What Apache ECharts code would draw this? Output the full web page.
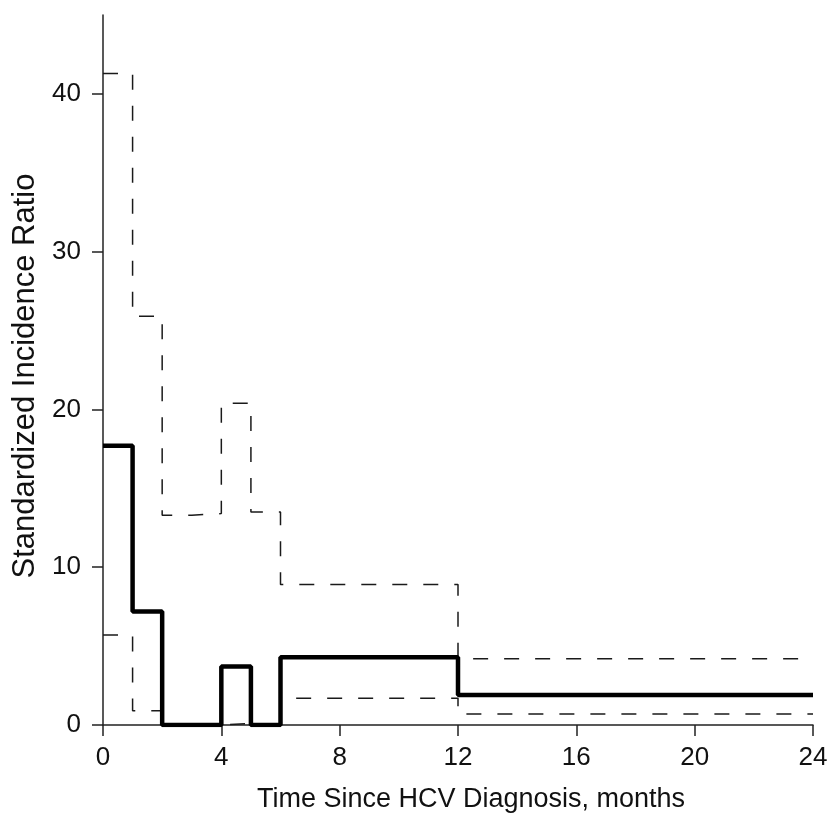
<!DOCTYPE html>
<html>
<head>
<meta charset="utf-8">
<script src="https://cdn.jsdelivr.net/npm/echarts@6/dist/echarts.min.js"></script>
<style>
  html, body { margin: 0; padding: 0; background: #fff; }
  #chart { width: 831px; height: 814px; }
</style>
</head>
<body>
<div id="chart"></div>
<script>
// step breakpoints (months) and values; last point repeats value to close the step
const sirPoints = [[0, 17.7], [1, 7.2], [2, 0], [4, 3.7], [5, 0], [6, 4.3], [12, 1.9], [24, 1.9]]
const upperCI = [[0, 41.3], [1, 25.9], [2, 13.3], [3, 13.4], [4, 20.4], [5, 13.5], [6, 8.9], [12, 4.2], [24, 4.2]]
const lowerCI = [[0, 5.7], [1, 0.9], [2, 0], [4, 0.1], [5, 0], [6, 1.7], [12, 0.7], [24, 0.7]]
const yTicks = [0, 10, 20, 30, 40]

const chart = echarts.init(document.getElementById('chart'))
const font = 'Liberation Sans, Arial, sans-serif'
const axisColor = '#222'

const dashed = {
  color: '#1a1a1a',
  width: 1.5,
  type: [15, 16],
}

chart.setOption({
  backgroundColor: '#fff',
  animation: false,
  grid: { left: 103, right: 18, top: 15, bottom: 89, outerBoundsMode: 'none', containLabel: false },
  xAxis: {
    type: 'value',
    min: 0,
    max: 24,
    interval: 4,
    name: 'Time Since HCV Diagnosis, months',
    nameLocation: 'middle',
    nameGap: 61,
    nameMoveOverlap: false,
    nameTextStyle: { color: '#111', fontSize: 27, fontFamily: font, padding: [0, 0, 0, 26] },
    axisLine: { lineStyle: { color: axisColor, width: 1.5 } },
    axisTick: { length: 11, lineStyle: { color: axisColor, width: 1.5 } },
    axisLabel: { color: '#111', fontSize: 26, fontFamily: font, margin: 20 },
    splitLine: { show: false },
  },
  yAxis: {
    type: 'value',
    min: 0,
    max: 45,
    name: 'Standardized Incidence Ratio',
    nameLocation: 'middle',
    nameGap: 62,
    nameMoveOverlap: false,
    nameTextStyle: { color: '#111', fontSize: 31, fontFamily: font, padding: [0, 12, 0, 0] },
    axisLine: { show: true, lineStyle: { color: axisColor, width: 1.5 } },
    axisTick: { show: true, length: 11, customValues: yTicks, lineStyle: { color: axisColor, width: 1.5 } },
    axisLabel: { color: '#111', fontSize: 26, fontFamily: font, margin: 22, customValues: yTicks },
    splitLine: { show: false },
  },
  series: [
    {
      type: 'line',
      step: 'end',
      data: upperCI,
      symbol: 'none',
      lineStyle: dashed,
    },
    {
      type: 'line',
      step: 'end',
      data: lowerCI,
      symbol: 'none',
      lineStyle: dashed,
    },
    {
      type: 'line',
      step: 'end',
      data: sirPoints,
      symbol: 'none',
      lineStyle: { color: '#000', width: 4.5 },
    },
  ],
})
</script>
</body>
</html>
